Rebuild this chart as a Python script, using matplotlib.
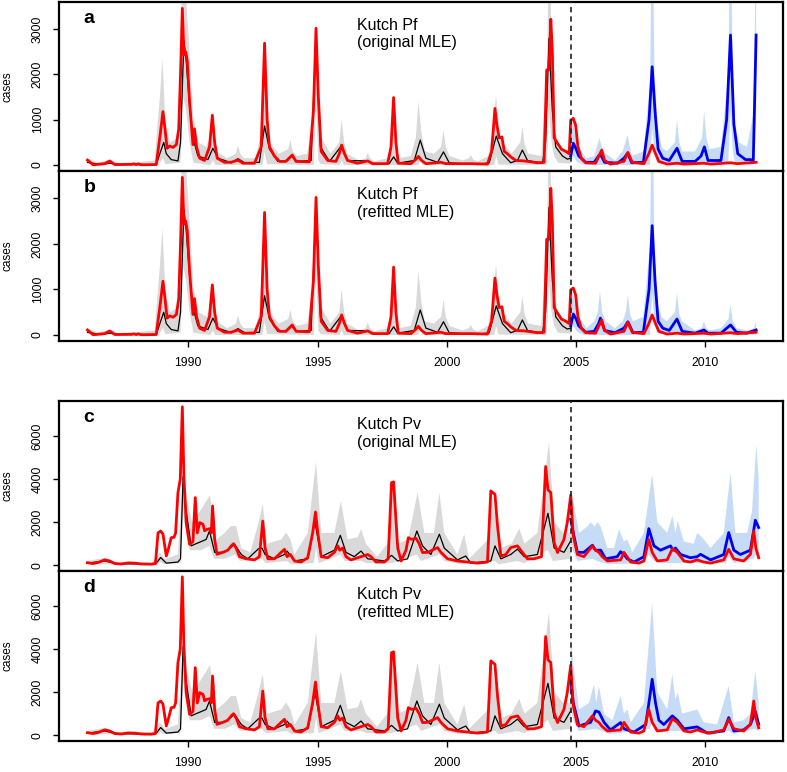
import numpy as np
import matplotlib
matplotlib.use("Agg")
import matplotlib.pyplot as plt

plt.rcParams['font.family'] = ['Liberation Sans', 'DejaVu Sans']

# ---------------- Pf data (observed, red) ----------------
pf_obs_t = [1986.10, 1986.32, 1986.77, 1986.96, 1987.16, 1987.80, 1987.90, 1987.99, 1988.06, 1988.19,
            1988.76, 1988.92, 1989.02, 1989.10, 1989.18, 1989.28, 1989.41, 1989.54, 1989.63, 1989.70,
            1989.77, 1989.83, 1989.90, 1989.96, 1990.05, 1990.18, 1990.24, 1990.32, 1990.44, 1990.63,
            1990.82, 1990.93, 1991.02, 1991.12, 1991.40, 1991.66, 1991.92, 1992.11, 1992.56, 1992.82,
            1992.95, 1993.05, 1993.14, 1993.33, 1993.53, 1993.78, 1994.02, 1994.17, 1994.68, 1994.84,
            1994.94, 1995.03, 1995.14, 1995.39, 1995.71, 1995.84, 1995.93, 1996.04, 1996.16, 1996.55,
            1996.94, 1997.13, 1997.71, 1997.84, 1997.94, 1998.03, 1998.12, 1998.61, 1998.81, 1998.90,
            1999.02, 1999.19, 1999.77, 1999.96, 2000.93, 2001.57, 2001.73, 2001.86, 2001.93, 2002.02,
            2002.13, 2002.22, 2002.34, 2002.47, 2002.67, 2002.99, 2003.50, 2003.76, 2003.86, 2003.95,
            2004.02, 2004.08, 2004.15, 2004.28, 2004.43, 2004.60, 2004.73, 2004.79, 2004.89, 2004.98,
            2005.07, 2005.20, 2005.37, 2005.75, 2005.88, 2005.99, 2006.10, 2006.33, 2006.85, 2007.00,
            2007.17, 2007.62, 2007.81, 2007.94, 2008.07, 2008.20, 2008.52, 2008.91, 2009.17, 2009.94,
            2010.20, 2010.97, 2011.23, 2011.96]
pf_obs_v = [110, 5, 30, 88, 10, 15, 25, 10, 25, 5,
            10, 700, 1180, 800, 370, 420, 390, 450, 800, 2000,
            3460, 2430, 2500, 2300, 1400, 450, 800, 400, 150, 100,
            400, 1100, 500, 150, 60, 60, 110, 40, 40, 400,
            2690, 1000, 400, 200, 80, 80, 220, 80, 70, 1200,
            3020, 1500, 300, 100, 80, 250, 440, 250, 100, 40,
            90, 30, 30, 400, 1490, 500, 40, 30, 130, 190,
            100, 30, 60, 30, 30, 20, 300, 1250, 900, 600,
            620, 300, 250, 180, 100, 90, 50, 60, 2100, 2100,
            3220, 2500, 600, 480, 350, 300, 250, 990, 1030, 880,
            400, 150, 50, 40, 200, 330, 100, 20, 80, 280,
            60, 30, 250, 440, 250, 80, 20, 40, 20, 40,
            20, 50, 30, 60]

# Pf model median (black)
pf_med_t = [1986.10, 1986.64, 1986.96, 1987.28, 1988.76, 1988.93, 1989.05, 1989.15, 1989.34, 1989.60,
            1989.70, 1989.83, 1989.92, 1990.05, 1990.18, 1990.37, 1990.76, 1990.95, 1991.15, 1991.66,
            1991.92, 1992.18, 1992.75, 1992.95, 1993.14, 1993.46, 1993.78, 1993.98, 1994.17, 1994.75,
            1994.94, 1995.11, 1995.46, 1995.93, 1996.16, 1996.94, 1997.19, 1997.77, 1997.94, 1998.10,
            1998.74, 1998.97, 1999.19, 1999.64, 1999.87, 2000.09, 2000.80, 2000.93, 2001.19, 2001.64,
            2001.91, 2002.15, 2002.47, 2002.73, 2002.92, 2003.12, 2003.70, 2003.82, 2003.95, 2004.08,
            2004.21, 2004.47, 2004.66, 2004.79]
pf_med_v = [60, 10, 40, 10, 10, 300, 500, 250, 120, 90,
            500, 2760, 2300, 1300, 600, 200, 120, 370, 150, 50,
            140, 50, 60, 860, 350, 80, 100, 210, 80, 100,
            2800, 400, 80, 430, 100, 90, 20, 30, 180, 40,
            100, 550, 150, 60, 290, 50, 20, 30, 10, 50,
            640, 250, 50, 100, 330, 100, 40, 500, 2800, 1200,
            400, 200, 130, 150]

# Pf model band (grey)
pf_hi_t = [1986.10, 1986.50, 1986.96, 1987.30, 1988.00, 1988.70, 1988.90, 1989.00, 1989.12, 1989.30,
           1989.60, 1989.75, 1989.90, 1990.05, 1990.20, 1990.40, 1990.70, 1990.84, 1990.93, 1991.03,
           1991.10, 1991.50, 1991.84, 1991.92, 1992.01, 1992.15, 1992.60, 1992.86, 1992.95, 1993.05,
           1993.15, 1993.50, 1993.86, 1993.95, 1994.04, 1994.20, 1994.60, 1994.84, 1994.94, 1995.03,
           1995.15, 1995.50, 1995.84, 1995.93, 1996.03, 1996.15, 1996.60, 1996.86, 1996.94, 1997.03,
           1997.20, 1997.70, 1997.86, 1997.94, 1998.03, 1998.15, 1998.60, 1998.80, 1998.90, 1999.02,
           1999.15, 1999.50, 1999.78, 1999.87, 1999.96, 2000.10, 2000.60, 2000.85, 2000.93, 2001.02,
           2001.20, 2001.60, 2001.80, 2001.90, 2002.00, 2002.15, 2002.50, 2002.84, 2002.92, 2003.01,
           2003.15, 2003.65, 2003.87, 2003.95, 2004.04, 2004.15, 2004.30, 2004.50, 2004.79]
pf_hi_v = [150, 50, 120, 40, 60, 100, 1500, 2350, 900, 500,
           600, 3800, 3800, 2500, 1000, 500, 400, 600, 1100, 600,
           300, 150, 250, 430, 250, 150, 150, 800, 2700, 1200,
           500, 250, 350, 550, 300, 200, 250, 1200, 3200, 1500,
           600, 250, 500, 1000, 500, 250, 100, 150, 270, 150,
           80, 150, 500, 1000, 400, 150, 200, 600, 1400, 700,
           300, 250, 400, 770, 400, 200, 100, 150, 220, 120,
           80, 200, 800, 1550, 900, 500, 250, 500, 850, 450,
           250, 200, 2000, 5000, 3000, 900, 500, 350, 300]
pf_lo_t = [1986.10, 1988.85, 1989.02, 1989.12, 1989.70, 1989.80, 1989.92, 1990.05, 1990.20, 1990.85,
           1990.95, 1991.05, 1992.87, 1992.95, 1993.05, 1994.86, 1994.94, 1995.03, 1995.12, 1995.85,
           1995.93, 1996.02, 1998.89, 1998.97, 1999.06, 2001.83, 2001.91, 2002.00, 2003.87, 2003.95,
           2004.05, 2004.15, 2004.30, 2004.79]
pf_lo_v = [20, 0, 150, 20, 50, 1500, 1200, 500, 50, 0,
           100, 0, 0, 300, 20, 0, 1500, 100, 20, 0,
           100, 0, 0, 150, 0, 0, 200, 10, 0, 1200,
           500, 200, 50, 30]

# Pf forecasts (blue): original MLE (a) and refitted MLE (b)
pf_fa_t = [2004.79, 2004.89, 2004.98, 2005.10, 2005.37, 2005.70, 2005.87, 2005.94, 2006.10, 2006.60,
           2006.85, 2006.99, 2007.15, 2007.60, 2007.82, 2007.94, 2008.05, 2008.17, 2008.35, 2008.60,
           2008.90, 2009.10, 2009.60, 2009.83, 2009.96, 2010.10, 2010.60, 2010.82, 2010.97, 2011.10,
           2011.25, 2011.55, 2011.75, 2011.85, 2011.96]
pf_fa_v = [200, 480, 380, 200, 60, 60, 200, 235, 60, 40,
           150, 260, 50, 60, 1000, 2170, 1200, 350, 150, 100,
           370, 80, 80, 200, 400, 100, 100, 1000, 2870, 900,
           250, 120, 120, 80, 2870]
pf_fa_hi_t = [2004.79, 2004.85, 2004.95, 2005.10, 2005.40, 2005.70, 2005.90, 2006.05, 2006.50, 2006.80,
              2006.99, 2007.15, 2007.60, 2007.86, 2007.94, 2008.03, 2008.15, 2008.30, 2008.50, 2008.82,
              2008.90, 2008.99, 2009.10, 2009.60, 2009.87, 2009.95, 2010.04, 2010.15, 2010.60, 2010.89,
              2010.97, 2011.05, 2011.15, 2011.30, 2011.60, 2011.88, 2011.96]
pf_fa_hi_v = [300, 1100, 700, 400, 150, 200, 590, 300, 100, 300,
              660, 200, 300, 1800, 6000, 2000, 900, 400, 300, 500,
              990, 500, 300, 300, 600, 1180, 600, 350, 400, 2000,
              6000, 2200, 900, 500, 400, 1200, 6000]
pf_fa_lo_t = [2004.79, 2004.89, 2005.00, 2005.10, 2005.30, 2007.85, 2007.94, 2008.03, 2008.12, 2008.30,
              2010.88, 2010.97, 2011.06, 2011.15, 2011.30, 2011.88, 2011.96]
pf_fa_lo_v = [50, 200, 100, 50, 0, 0, 800, 300, 50, 20,
              50, 1200, 300, 50, 20, 20, 1200]

pf_fb_t = [2004.79, 2004.89, 2005.00, 2005.10, 2005.37, 2005.70, 2005.87, 2005.94, 2006.10, 2006.50,
           2006.85, 2007.00, 2007.20, 2007.60, 2007.82, 2007.94, 2008.05, 2008.17, 2008.35, 2008.60,
           2008.90, 2009.10, 2009.60, 2009.94, 2010.10, 2010.60, 2010.97, 2011.20, 2011.60, 2011.96]
pf_fb_v = [200, 460, 350, 200, 60, 80, 250, 370, 100, 50,
           150, 290, 50, 60, 1000, 2400, 1200, 300, 150, 100,
           350, 80, 40, 110, 40, 40, 220, 60, 40, 110]
pf_fb_hi_t = [2004.79, 2004.85, 2004.95, 2005.10, 2005.40, 2005.70, 2005.84, 2005.92, 2006.01, 2006.15,
              2006.50, 2006.80, 2006.92, 2007.00, 2007.09, 2007.20, 2007.60, 2007.86, 2007.94, 2008.03,
              2008.15, 2008.30, 2008.50, 2008.82, 2008.90, 2008.99, 2009.10, 2009.60, 2009.86, 2009.94,
              2010.03, 2010.15, 2010.60, 2010.89, 2010.97, 2011.06, 2011.20, 2011.60, 2011.88, 2011.96]
pf_fb_hi_v = [300, 1000, 700, 400, 150, 300, 500, 960, 500, 300,
              150, 300, 500, 880, 450, 300, 400, 2000, 6000, 1800,
              700, 400, 300, 500, 920, 450, 300, 100, 150, 300,
              150, 100, 150, 350, 660, 300, 150, 100, 150, 300]
pf_fb_lo_t = [2004.79, 2004.89, 2005.00, 2005.10, 2005.30, 2007.85, 2007.94, 2008.03, 2008.12, 2008.30,
              2011.96]
pf_fb_lo_v = [50, 200, 100, 50, 0, 0, 900, 300, 50, 20,
              10]

# ---------------- Pv data (observed, red) ----------------
pv_obs_t = [1986.10, 1986.32, 1986.51, 1986.77, 1986.96, 1987.16, 1987.41, 1987.67, 1987.93, 1988.19,
            1988.57, 1988.73, 1988.83, 1988.93, 1989.02, 1989.15, 1989.24, 1989.34, 1989.45, 1989.51,
            1989.60, 1989.69, 1989.77, 1989.83, 1989.92, 1990.05, 1990.18, 1990.27, 1990.35, 1990.44,
            1990.57, 1990.63, 1990.73, 1990.84, 1990.89, 1990.94, 1991.02, 1991.11, 1991.34, 1991.53,
            1991.66, 1991.75, 1991.85, 1991.98, 1992.24, 1992.56, 1992.75, 1992.88, 1992.97, 1993.08,
            1993.33, 1993.59, 1993.72, 1993.82, 1993.95, 1994.11, 1994.36, 1994.62, 1994.81, 1994.92,
            1995.01, 1995.14, 1995.39, 1995.65, 1995.78, 1995.86, 1995.97, 1996.10, 1996.29, 1996.68,
            1996.94, 1997.07, 1997.26, 1997.58, 1997.73, 1997.86, 1997.94, 1998.10, 1998.23, 1998.42,
            1998.51, 1998.64, 1998.81, 1998.93, 1999.06, 1999.26, 1999.64, 1999.77, 2000.03, 2000.41,
            2000.80, 2001.19, 2001.57, 2001.70, 2001.86, 2001.96, 2002.09, 2002.28, 2002.47, 2002.73,
            2002.92, 2003.12, 2003.37, 2003.66, 2003.82, 2003.91, 2004.02, 2004.15, 2004.28, 2004.53,
            2004.66, 2004.79, 2004.89, 2005.05, 2005.30, 2005.63, 2005.75, 2005.88, 2006.01, 2006.21,
            2006.72, 2006.85, 2007.11, 2007.43, 2007.62, 2007.81, 2007.94, 2008.14, 2008.52, 2008.72,
            2008.91, 2009.17, 2009.42, 2009.68, 2009.94, 2010.20, 2010.71, 2010.90, 2011.10, 2011.48,
            2011.74, 2011.87, 2011.95, 2012.06]
pv_obs_v = [120, 80, 130, 250, 200, 80, 60, 110, 100, 60,
            50, 80, 1500, 1590, 1450, 430, 800, 1280, 1300, 1500,
            3370, 4000, 7350, 4140, 1980, 970, 1100, 3140, 1500, 1980,
            1900, 1600, 1670, 1700, 1500, 2750, 1200, 510, 600, 700,
            900, 1000, 800, 400, 300, 250, 400, 2050, 800, 300,
            300, 600, 740, 400, 500, 200, 150, 350, 1500, 2470,
            1500, 400, 350, 600, 900, 700, 800, 400, 250, 400,
            500, 400, 150, 150, 300, 3830, 3870, 800, 200, 700,
            1280, 1200, 1250, 1000, 590, 600, 820, 600, 300, 200,
            150, 100, 150, 3450, 3290, 1820, 430, 500, 820, 900,
            600, 300, 300, 400, 4580, 3500, 3370, 1050, 590, 1200,
            2000, 3250, 1360, 500, 400, 900, 700, 600, 400, 200,
            250, 600, 150, 100, 200, 1200, 600, 200, 250, 770,
            600, 200, 150, 250, 150, 100, 250, 740, 300, 200,
            510, 1590, 800, 350]

# Pv model median (black)
pv_med_t = [1986.10, 1986.77, 1987.20, 1988.60, 1988.80, 1988.93, 1989.15, 1989.60, 1989.70, 1989.80,
            1989.92, 1990.11, 1990.30, 1990.50, 1990.69, 1990.82, 1991.02, 1991.40, 1991.79, 1992.05,
            1992.30, 1992.72, 1992.85, 1992.97, 1993.33, 1993.72, 1993.82, 1994.11, 1994.62, 1994.90,
            1995.14, 1995.65, 1995.88, 1996.10, 1996.42, 1996.68, 1996.94, 1997.60, 1997.86, 1998.10,
            1998.48, 1998.84, 1999.06, 1999.38, 1999.71, 1999.90, 2000.41, 2000.73, 2000.93, 2001.70,
            2001.86, 2002.09, 2002.47, 2002.73, 2002.99, 2003.50, 2003.91, 2004.15, 2004.53, 2004.79]
pv_med_v = [100, 200, 80, 50, 150, 360, 100, 150, 300, 4110,
            2500, 900, 1000, 1100, 1200, 1590, 600, 600, 970, 500,
            300, 770, 800, 500, 300, 500, 660, 200, 300, 2000,
            400, 700, 1390, 600, 400, 660, 300, 200, 460, 200,
            300, 1590, 900, 500, 1440, 800, 250, 430, 100, 200,
            900, 300, 500, 750, 400, 500, 2410, 800, 600, 1130]

# Pv model band (grey)
pv_hi_t = [1986.10, 1986.77, 1987.20, 1988.60, 1988.90, 1989.10, 1989.60, 1989.80, 1989.95, 1990.15,
           1990.45, 1990.84, 1991.10, 1991.40, 1991.65, 1991.85, 1992.05, 1992.40, 1992.70, 1992.88,
           1993.05, 1993.60, 1993.78, 1993.95, 1994.11, 1994.62, 1994.94, 1995.14, 1995.65, 1995.90,
           1996.16, 1996.55, 1996.68, 1996.87, 1997.30, 1997.70, 1997.90, 1998.10, 1998.50, 1998.87,
           1999.13, 1999.50, 1999.71, 1999.90, 2000.41, 2000.67, 2000.86, 2001.60, 2001.70, 2002.09,
           2002.50, 2002.80, 2003.00, 2003.50, 2003.95, 2004.15, 2004.50, 2004.79]
pv_hi_v = [200, 350, 150, 120, 600, 300, 500, 4500, 3000, 2000,
           2500, 3250, 1200, 1500, 1820, 1820, 800, 600, 1900, 2830,
           1000, 1200, 1520, 1200, 500, 1500, 4790, 1500, 1500, 2980,
           1200, 1300, 1670, 1000, 400, 1000, 3900, 1000, 1200, 3370,
           1500, 1500, 3370, 1500, 500, 1440, 300, 1200, 3500, 800,
           1000, 1700, 1000, 1500, 5690, 2000, 1500, 1500]
pv_lo_t = [1986.10, 1988.80, 1988.93, 1989.05, 1989.70, 1989.80, 1989.92, 1990.05, 1990.50, 1990.82,
           1991.00, 1991.40, 1991.79, 1992.00, 1992.85, 1993.00, 1993.80, 1994.00, 1994.85, 1994.94,
           1995.05, 1995.88, 1996.05, 1996.68, 1996.90, 1997.86, 1998.84, 1999.00, 1999.71, 1999.90,
           2000.50, 2001.86, 2002.00, 2002.73, 2003.00, 2003.91, 2004.10, 2004.79]
pv_lo_v = [50, 30, 150, 50, 100, 2500, 1500, 700, 700, 900,
           300, 300, 500, 200, 300, 100, 200, 50, 100, 800,
           100, 500, 200, 200, 100, 100, 500, 200, 500, 200,
           50, 200, 50, 200, 100, 700, 200, 300]

# Pv forecasts (blue): original MLE (c) and refitted MLE (d)
pv_fc_t = [2004.79, 2004.89, 2005.05, 2005.30, 2005.63, 2005.75, 2005.95, 2006.14, 2006.59, 2006.72,
           2006.85, 2006.98, 2007.24, 2007.62, 2007.81, 2008.01, 2008.26, 2008.65, 2008.75, 2008.84,
           2009.04, 2009.42, 2009.68, 2009.81, 2010.20, 2010.71, 2010.90, 2011.10, 2011.35, 2011.74,
           2011.93, 2012.06]
pv_fc_v = [2130, 1500, 600, 600, 930, 700, 700, 300, 400, 630,
           500, 300, 150, 400, 1700, 900, 700, 900, 700, 800,
           500, 350, 400, 510, 250, 500, 1520, 700, 500, 700,
           2090, 1750]
pv_fc_hi_t = [2004.79, 2004.92, 2005.11, 2005.43, 2005.56, 2005.72, 2005.82, 2005.95, 2006.21, 2006.46,
              2006.66, 2006.85, 2006.98, 2007.17, 2007.62, 2007.94, 2008.14, 2008.52, 2008.72, 2008.84,
              2008.93, 2009.17, 2009.55, 2009.68, 2009.87, 2010.20, 2010.71, 2010.97, 2011.16, 2011.61,
              2011.80, 2011.97, 2012.06]
pv_fc_hi_v = [3500, 2800, 1500, 1800, 2000, 1800, 2000, 1800, 800, 800,
              1670, 1100, 1200, 600, 1500, 4220, 2000, 1500, 2290, 1500,
              2060, 1100, 1000, 1500, 1300, 800, 1500, 4300, 1500, 1500,
              2500, 5600, 4000]
pv_fc_lo_t = [2004.79, 2004.90, 2005.05, 2005.63, 2005.80, 2006.20, 2007.62, 2007.81, 2008.00, 2008.30,
              2010.80, 2010.90, 2011.10, 2011.85, 2011.96, 2012.06]
pv_fc_lo_v = [1000, 600, 200, 300, 200, 50, 100, 500, 200, 100,
              100, 400, 100, 300, 500, 400]

pv_fd_t = [2004.79, 2004.89, 2005.11, 2005.56, 2005.75, 2005.88, 2006.08, 2006.33, 2006.72, 2006.85,
           2007.24, 2007.69, 2007.85, 2007.94, 2008.07, 2008.20, 2008.39, 2008.72, 2008.91, 2009.17,
           2009.68, 2010.07, 2010.71, 2010.90, 2011.10, 2011.48, 2011.74, 2011.93, 2012.06]
pv_fd_v = [2520, 1500, 430, 600, 1130, 1080, 600, 250, 590, 300,
           150, 500, 1800, 2600, 1500, 700, 500, 900, 700, 300,
           390, 100, 200, 820, 200, 250, 500, 1100, 510]
pv_fd_hi_t = [2004.79, 2004.92, 2005.11, 2005.50, 2005.69, 2005.78, 2005.88, 2006.08, 2006.40, 2006.72,
              2006.85, 2006.98, 2007.11, 2007.62, 2007.94, 2008.14, 2008.52, 2008.72, 2008.84, 2008.93,
              2009.10, 2009.68, 2009.94, 2010.45, 2010.90, 2011.10, 2011.48, 2011.74, 2011.93, 2012.06]
pv_fd_hi_v = [4600, 3000, 1200, 1500, 2370, 1500, 2290, 1000, 700, 1820,
              1000, 1200, 600, 1500, 6150, 2000, 1200, 2830, 1670, 2000,
              1000, 1200, 600, 500, 2290, 600, 700, 1000, 2980, 1500]
pv_fd_lo_t = [2004.79, 2004.92, 2005.10, 2005.75, 2006.00, 2006.30, 2007.85, 2007.94, 2008.10, 2010.90,
              2011.10, 2011.90, 2012.06]
pv_fd_lo_v = [1200, 600, 200, 300, 200, 50, 300, 700, 200, 200,
              50, 300, 200]

# ---------------- text ----------------
panel_letters = ['a', 'b', 'c', 'd']
panel_titles = ['Kutch Pf\n(original MLE)', 'Kutch Pf\n(refitted MLE)',
                'Kutch Pv\n(original MLE)', 'Kutch Pv\n(refitted MLE)']
x_ticks = [1990, 1995, 2000, 2005, 2010]
pf_yticks = [0, 1000, 2000, 3000]
pv_yticks = [0, 2000, 4000, 6000]
forecast_start = 2004.79

GREY = '#D9D9D9'
LBLUE = '#C6DCF6'
RED = '#FF0000'
BLUE = '#0000EE'

W, H = 787, 772
fig = plt.figure(figsize=(W / 100, H / 100), dpi=100)
AXW = 783 - 59


def add_ax(top_px, bot_px):
    return fig.add_axes([59 / W, 1 - bot_px / H, AXW / W, (bot_px - top_px) / H])


def band(ax, ht, hv, lt, lv, color):
    xs = np.concatenate([np.asarray(ht), np.asarray(lt)[::-1]])
    ys = np.concatenate([np.asarray(hv), np.asarray(lv)[::-1]])
    ax.fill(xs, ys, color=color, lw=0, zorder=1)


specs = [
    (2, 171, 'pf', pf_fa_t, pf_fa_v, pf_fa_hi_t, pf_fa_hi_v, pf_fa_lo_t, pf_fa_lo_v),
    (171, 341, 'pf', pf_fb_t, pf_fb_v, pf_fb_hi_t, pf_fb_hi_v, pf_fb_lo_t, pf_fb_lo_v),
    (401, 571, 'pv', pv_fc_t, pv_fc_v, pv_fc_hi_t, pv_fc_hi_v, pv_fc_lo_t, pv_fc_lo_v),
    (571, 741, 'pv', pv_fd_t, pv_fd_v, pv_fd_hi_t, pv_fd_hi_v, pv_fd_lo_t, pv_fd_lo_v),
]

for i, (top, bot, sp, ft, fv, fht, fhv, flt, flv) in enumerate(specs):
    ax = add_ax(top, bot)
    if sp == 'pf':
        obs_t, obs_v = pf_obs_t, pf_obs_v
        med_t, med_v = pf_med_t, pf_med_v
        hi_t, hi_v, lo_t, lo_v = pf_hi_t, pf_hi_v, pf_lo_t, pf_lo_v
        yt = pf_yticks
        ax.set_ylim(-132, 3600)
    else:
        obs_t, obs_v = pv_obs_t, pv_obs_v
        med_t, med_v = pv_med_t, pv_med_v
        hi_t, hi_v, lo_t, lo_v = pv_hi_t, pv_hi_v, pv_lo_t, pv_lo_v
        yt = pv_yticks
        ax.set_ylim(-265, 7620)

    band(ax, hi_t, hi_v, lo_t, lo_v, GREY)
    band(ax, fht, fhv, flt, flv, LBLUE)
    ax.plot(med_t, med_v, color='black', lw=0.9, zorder=3)
    ax.plot(ft, fv, color=BLUE, lw=2.0, zorder=4)
    ax.plot(obs_t, obs_v, color=RED, lw=2.0, zorder=5, solid_joinstyle='round')
    ax.axvline(forecast_start, color='#222222', lw=1.2, ls=(0, (3.2, 2.4)), zorder=6)

    ax.set_xlim(1985.0, 2013.0)
    ax.set_yticks(yt)
    ax.set_yticklabels([str(v) for v in yt], rotation=90, va='center')
    ax.tick_params(axis='y', direction='out', length=4.5, width=1.0, labelsize=8.7, pad=6.5)
    if i in (1, 3):
        ax.set_xticks(x_ticks)
        ax.set_xticklabels([str(v) for v in x_ticks])
        ax.tick_params(axis='x', direction='out', length=4.5, width=1.0, labelsize=8.7, pad=7)
    else:
        ax.set_xticks([])
    for s in ax.spines.values():
        s.set_linewidth(1.6)
    ax.set_ylabel('cases', fontsize=8.5)
    ax.yaxis.set_label_coords(-(59 - 13) / AXW, 0.5)
    ax.text(0.034, 0.905, panel_letters[i], transform=ax.transAxes, fontsize=14,
            fontweight='bold', ha='left', va='center')
    ax.text(1996.53, 0.905, panel_titles[i], transform=ax.get_xaxis_transform(),
            fontsize=11.5, ha='left', va='top', linespacing=1.2)

fig.savefig('out.png', dpi=100)
